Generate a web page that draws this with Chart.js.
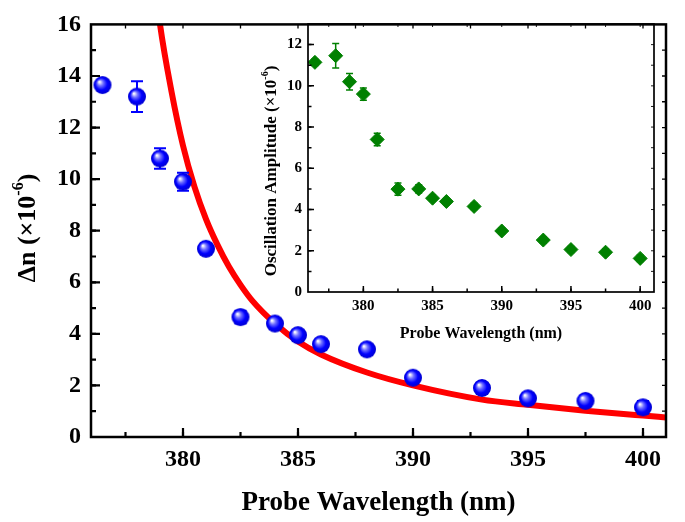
<!DOCTYPE html>
<html>
<head>
<meta charset="utf-8">
<script src="https://cdn.jsdelivr.net/npm/chart.js@4.4.1/dist/chart.umd.min.js"></script>
<style>
  html, body { margin: 0; padding: 0; background: #fff; }
  #wrap { position: relative; width: 685px; height: 522px; }
  #wrap canvas { position: absolute; left: 0; top: 0; }
</style>
</head>
<body>
<div id="wrap">
  <canvas id="mainChart" width="685" height="522"></canvas>
  <canvas id="insetChart" width="685" height="522"></canvas>
</div>
<script>
// Longitudes de onda medidas (nm)
const wavelengths = [376.5, 378, 379, 380, 381, 382.5, 384, 385, 386, 388, 390, 393, 395, 397.5, 400];
// Δn (x10^-6) y su error
const dnValues = [13.65, 13.2, 10.8, 9.9, 7.3, 4.65, 4.4, 3.95, 3.6, 3.4, 2.3, 1.9, 1.5, 1.4, 1.15];
const dnErrors = [0.15, 0.6, 0.4, 0.35, 0.2, 0.25, 0.15, 0.15, 0.15, 0.15, 0.2, 0.15, 0.2, 0.2, 0.25];
// curva roja
const fitX = [378.6, 379, 379.5, 380, 380.5, 381, 381.5, 382, 382.5, 383, 384, 385, 386, 388, 390, 393, 395, 397.5, 400, 401];
const fitY = [19, 16, 13.4, 11.3, 9.7, 8.45, 7.45, 6.6, 5.9, 5.3, 4.4, 3.7, 3.2, 2.5, 2.0, 1.45, 1.25, 1.02, 0.83, 0.76];
// inset: amplitud de oscilación (x10^-6)
const ampValues = [11.14, 11.46, 10.2, 9.6, 7.4, 4.99, 5.0, 4.55, 4.39, 4.15, 2.96, 2.52, 2.06, 1.93, 1.63];
const ampErrors = [0.15, 0.6, 0.4, 0.3, 0.3, 0.3, 0.2, 0.15, 0.15, 0.15, 0.15, 0.15, 0.15, 0.15, 0.15];
// etiquetas de los ejes
const xTicks = [380, 385, 390, 395, 400];
const yTicksMain = [0, 2, 4, 6, 8, 10, 12, 14, 16];
const yTicksInset = [0, 2, 4, 6, 8, 10, 12];

const FONT = "'Liberation Serif', 'Times New Roman', serif";

// marcador esférico azul
function sphere(r) {
  const c = document.createElement('canvas');
  c.width = c.height = 2 * r + 2;
  const g = c.getContext('2d');
  const cx = r + 1;
  const grad = g.createRadialGradient(cx - r * 0.35, cx - r * 0.35, r * 0.05, cx, cx, r);
  grad.addColorStop(0, '#ffffff');
  grad.addColorStop(0.3, '#7070ff');
  grad.addColorStop(0.65, '#0000ff');
  grad.addColorStop(1, '#0000d0');
  g.fillStyle = grad;
  g.beginPath();
  g.arc(cx, cx, r, 0, 2 * Math.PI);
  g.fill();
  return c;
}

function tickLines(ctx, scale, area, side, step, len) {
  const min = scale.min, max = scale.max;
  let v = Math.ceil(min / step - 1e-9) * step;
  ctx.beginPath();
  for (; v <= max + 1e-9; v += step) {
    if (Math.abs(v - min) < 1e-6 || Math.abs(v - max) < 1e-6) continue;
    const p = scale.getPixelForValue(v);
    if (side === 'bottom') { ctx.moveTo(p, area.bottom); ctx.lineTo(p, area.bottom - len); }
    if (side === 'top') { ctx.moveTo(p, area.top); ctx.lineTo(p, area.top + len); }
    if (side === 'left') { ctx.moveTo(area.left, p); ctx.lineTo(area.left + len, p); }
    if (side === 'right') { ctx.moveTo(area.right, p); ctx.lineTo(area.right - len, p); }
  }
  ctx.stroke();
}

function supTitle(ctx, x, y, size, before, sup, after) {
  const f = 'bold ' + size + 'px ' + FONT;
  const fs = 'bold ' + Math.round(size * 0.6) + 'px ' + FONT;
  ctx.save();
  ctx.translate(x, y);
  ctx.rotate(-Math.PI / 2);
  ctx.fillStyle = '#000';
  ctx.textBaseline = 'middle';
  ctx.textAlign = 'left';
  ctx.font = f;
  const w1 = ctx.measureText(before).width, w3 = ctx.measureText(after).width;
  ctx.font = fs;
  const w2 = ctx.measureText(sup).width;
  const sx = -(w1 + w2 + w3) / 2;
  ctx.font = f; ctx.fillText(before, sx, 0);
  ctx.font = fs; ctx.fillText(sup, sx + w1, -size * 0.36);
  ctx.font = f; ctx.fillText(after, sx + w1 + w2, 0);
  ctx.restore();
}

// marco, ticks hacia dentro, barras de error y título del eje y
function decor(o) {
  return {
    id: 'decor',
    beforeDatasetDraw(chart, args) {
      const ds = chart.data.datasets[args.index];
      if (!ds.errors) return;
      const ctx = chart.ctx, y = chart.scales.y, x = chart.scales.x;
      ctx.save();
      ctx.strokeStyle = ds.errorColor;
      ctx.lineWidth = ds.errorWidth;
      ds.data.forEach((pt, i) => {
        const px = x.getPixelForValue(pt.x);
        const top = y.getPixelForValue(pt.y + ds.errors[i]);
        const bot = y.getPixelForValue(pt.y - ds.errors[i]);
        ctx.beginPath();
        ctx.moveTo(px, top); ctx.lineTo(px, bot);
        ctx.moveTo(px - ds.capWidth / 2, top); ctx.lineTo(px + ds.capWidth / 2, top);
        ctx.moveTo(px - ds.capWidth / 2, bot); ctx.lineTo(px + ds.capWidth / 2, bot);
        ctx.stroke();
      });
      ctx.restore();
    },
    afterDraw(chart) {
      const ctx = chart.ctx, a = chart.chartArea, x = chart.scales.x, y = chart.scales.y;
      ctx.save();
      ctx.strokeStyle = '#000';
      ctx.lineWidth = o.line;
      ctx.strokeRect(a.left, a.top, a.right - a.left, a.bottom - a.top);
      ctx.lineWidth = o.tickWidth;
      tickLines(ctx, x, a, 'bottom', 5, o.major);
      tickLines(ctx, x, a, 'bottom', 2.5, o.minor);
      tickLines(ctx, y, a, 'left', 2, o.major);
      tickLines(ctx, y, a, 'left', 1, o.minor);
      ctx.lineWidth = o.tickWidth * 0.6;
      tickLines(ctx, x, a, 'top', 2.5, o.mirror);
      tickLines(ctx, y, a, 'right', 1, o.mirror);
      ctx.restore();
      supTitle(ctx, o.titleX, o.titleY, o.titleSize, o.titleText, '-6', ')');
    }
  };
}

const sphereImg = sphere(9);

new Chart(document.getElementById('mainChart'), {
  type: 'scatter',
  data: {
    datasets: [{
      label: 'Δn',
      data: wavelengths.map((w, i) => ({ x: w, y: dnValues[i] })),
      pointStyle: sphereImg,
      pointRadius: 9,
      errors: dnErrors,
      errorColor: '#0000ff',
      errorWidth: 2,
      capWidth: 12
    }, {
      label: 'fit',
      data: fitX.map((w, i) => ({ x: w, y: fitY[i] })),
      showLine: true,
      borderColor: '#ff0000',
      borderWidth: 6,
      pointRadius: 0,
      cubicInterpolationMode: 'monotone'
    }]
  },
  options: {
    responsive: false,
    devicePixelRatio: 1,
    animation: false,
    layout: { padding: { left: 0, right: 19, top: 13, bottom: 0 } },
    plugins: { legend: { display: false }, tooltip: { enabled: false } },
    scales: {
      x: {
        type: 'linear', min: 376, max: 401,
        grid: { display: false, drawTicks: false },
        border: { display: false },
        afterBuildTicks: s => { s.ticks = xTicks.map(v => ({ value: v })); },
        afterFit: s => { s.height = 85; },
        ticks: { padding: 8, maxRotation: 0, color: '#000', font: { family: FONT, size: 24, weight: 'bold' } },
        title: { display: true, text: 'Probe Wavelength (nm)', color: '#000',
                 font: { family: FONT, size: 27, weight: 'bold' }, padding: { top: 0, bottom: 3 } }
      },
      y: {
        min: 0, max: 16,
        grid: { display: false, drawTicks: false },
        border: { display: false },
        afterBuildTicks: s => { s.ticks = yTicksMain.map(v => ({ value: v })); },
        afterFit: s => { s.width = 91; },
        ticks: { padding: 10, color: '#000', font: { family: FONT, size: 24, weight: 'bold' } }
      }
    }
  },
  plugins: [decor({ line: 2.5, tickWidth: 2.2, major: 9, minor: 5, mirror: 4,
                    titleX: 28, titleY: 228, titleSize: 26, titleText: 'Δn (×10' })]
});

new Chart(document.getElementById('insetChart'), {
  type: 'scatter',
  data: {
    datasets: [{
      label: 'Oscillation Amplitude',
      data: wavelengths.map((w, i) => ({ x: w, y: ampValues[i] })),
      pointStyle: 'rectRot',
      pointRadius: 7,
      backgroundColor: '#008000',
      borderColor: '#008000',
      borderWidth: 1,
      errors: ampErrors,
      errorColor: '#008000',
      errorWidth: 1.5,
      capWidth: 7
    }]
  },
  options: {
    responsive: false,
    devicePixelRatio: 1,
    animation: false,
    layout: { padding: { left: 240, right: 31, top: 24, bottom: 162 } },
    plugins: { legend: { display: false }, tooltip: { enabled: false } },
    scales: {
      x: {
        type: 'linear', min: 376, max: 401,
        grid: { display: false, drawTicks: false },
        border: { display: false },
        afterBuildTicks: s => { s.ticks = xTicks.map(v => ({ value: v })); },
        afterFit: s => { s.height = 68; },
        ticks: { padding: 5, maxRotation: 0, color: '#000', font: { family: FONT, size: 15, weight: 'bold' } },
        title: { display: true, text: 'Probe Wavelength (nm)', color: '#000',
                 font: { family: FONT, size: 16, weight: 'bold' }, padding: { top: 0, bottom: 17 } }
      },
      y: {
        min: 0, max: 13,
        grid: { display: false, drawTicks: false },
        border: { display: false },
        afterBuildTicks: s => { s.ticks = yTicksInset.map(v => ({ value: v })); },
        afterFit: s => { s.width = 68; },
        ticks: { padding: 6, color: '#000', font: { family: FONT, size: 15, weight: 'bold' } }
      }
    }
  },
  plugins: [decor({ line: 1.7, tickWidth: 1.5, major: 6, minor: 3.5, mirror: 3,
                    titleX: 272, titleY: 171, titleSize: 17, titleText: 'Oscillation Amplitude (×10' })]
});
</script>
</body>
</html>
